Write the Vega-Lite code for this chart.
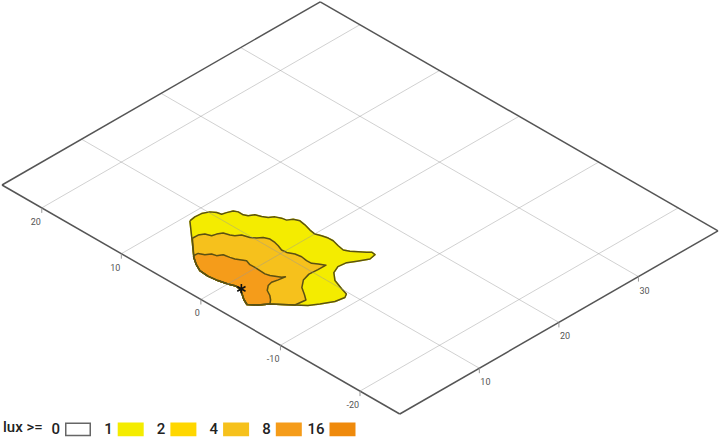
{
  "$schema": "https://vega.github.io/schema/vega-lite/v6.json",
  "width": 720,
  "height": 439,
  "padding": 0,
  "autosize": {"type": "fit", "contains": "padding"},
  "background": "white",
  "config": {"view": {"stroke": null}},
  "datasets": {
    "contours": [
      {"lux": 1, "i": 1, "X": 7.90, "Y": 9.28},
      {"lux": 1, "i": 2, "X": 8.64, "Y": 9.40},
      {"lux": 1, "i": 3, "X": 9.42, "Y": 9.34},
      {"lux": 1, "i": 4, "X": 10.13, "Y": 9.00},
      {"lux": 1, "i": 5, "X": 10.48, "Y": 8.50},
      {"lux": 1, "i": 6, "X": 10.62, "Y": 8.01},
      {"lux": 1, "i": 7, "X": 11.10, "Y": 7.87},
      {"lux": 1, "i": 8, "X": 11.70, "Y": 7.64},
      {"lux": 1, "i": 9, "X": 11.91, "Y": 7.22},
      {"lux": 1, "i": 10, "X": 11.90, "Y": 6.58},
      {"lux": 1, "i": 11, "X": 12.10, "Y": 6.16},
      {"lux": 1, "i": 12, "X": 12.63, "Y": 5.85},
      {"lux": 1, "i": 13, "X": 12.87, "Y": 5.24},
      {"lux": 1, "i": 14, "X": 13.18, "Y": 4.72},
      {"lux": 1, "i": 15, "X": 13.67, "Y": 4.37},
      {"lux": 1, "i": 16, "X": 13.95, "Y": 3.81},
      {"lux": 1, "i": 17, "X": 14.05, "Y": 3.28},
      {"lux": 1, "i": 18, "X": 14.57, "Y": 2.97},
      {"lux": 1, "i": 19, "X": 14.81, "Y": 2.36},
      {"lux": 1, "i": 20, "X": 14.69, "Y": 1.62},
      {"lux": 1, "i": 21, "X": 14.43, "Y": 0.72},
      {"lux": 1, "i": 22, "X": 14.31, "Y": -0.02},
      {"lux": 1, "i": 23, "X": 14.54, "Y": -0.63},
      {"lux": 1, "i": 24, "X": 14.71, "Y": -1.30},
      {"lux": 1, "i": 25, "X": 14.73, "Y": -1.90},
      {"lux": 1, "i": 26, "X": 14.50, "Y": -2.76},
      {"lux": 1, "i": 27, "X": 14.35, "Y": -3.54},
      {"lux": 1, "i": 28, "X": 14.64, "Y": -4.09},
      {"lux": 1, "i": 29, "X": 15.10, "Y": -4.67},
      {"lux": 1, "i": 30, "X": 15.58, "Y": -5.25},
      {"lux": 1, "i": 31, "X": 15.91, "Y": -5.59},
      {"lux": 1, "i": 32, "X": 15.83, "Y": -6.05},
      {"lux": 1, "i": 33, "X": 15.05, "Y": -6.20},
      {"lux": 1, "i": 34, "X": 13.99, "Y": -5.62},
      {"lux": 1, "i": 35, "X": 13.18, "Y": -5.14},
      {"lux": 1, "i": 36, "X": 12.20, "Y": -5.02},
      {"lux": 1, "i": 37, "X": 11.29, "Y": -5.42},
      {"lux": 1, "i": 38, "X": 10.49, "Y": -6.36},
      {"lux": 1, "i": 39, "X": 10.01, "Y": -7.68},
      {"lux": 1, "i": 40, "X": 9.74, "Y": -8.55},
      {"lux": 1, "i": 41, "X": 9.27, "Y": -8.83},
      {"lux": 1, "i": 42, "X": 8.21, "Y": -8.64},
      {"lux": 1, "i": 43, "X": 6.99, "Y": -7.97},
      {"lux": 1, "i": 44, "X": 6.07, "Y": -7.38},
      {"lux": 1, "i": 45, "X": 5.31, "Y": -6.51},
      {"lux": 1, "i": 46, "X": 4.55, "Y": -5.63},
      {"lux": 1, "i": 47, "X": 3.85, "Y": -4.83},
      {"lux": 1, "i": 48, "X": 2.98, "Y": -4.18},
      {"lux": 1, "i": 49, "X": 2.35, "Y": -3.44},
      {"lux": 1, "i": 50, "X": 2.70, "Y": -2.70},
      {"lux": 1, "i": 51, "X": 3.23, "Y": -1.93},
      {"lux": 1, "i": 52, "X": 3.59, "Y": -1.31},
      {"lux": 1, "i": 53, "X": 3.67, "Y": -0.73},
      {"lux": 1, "i": 54, "X": 3.38, "Y": -0.01},
      {"lux": 1, "i": 55, "X": 3.13, "Y": 1.00},
      {"lux": 1, "i": 56, "X": 2.99, "Y": 2.11},
      {"lux": 1, "i": 57, "X": 3.09, "Y": 3.22},
      {"lux": 1, "i": 58, "X": 3.52, "Y": 4.09},
      {"lux": 1, "i": 59, "X": 4.13, "Y": 5.01},
      {"lux": 1, "i": 60, "X": 6.07, "Y": 7.20},
      {"lux": 1, "i": 61, "X": 7.90, "Y": 9.28},
      {"lux": 4, "i": 1, "X": 6.15, "Y": 7.22},
      {"lux": 4, "i": 2, "X": 6.86, "Y": 7.20},
      {"lux": 4, "i": 3, "X": 7.39, "Y": 6.89},
      {"lux": 4, "i": 4, "X": 7.63, "Y": 6.28},
      {"lux": 4, "i": 5, "X": 8.13, "Y": 6.15},
      {"lux": 4, "i": 6, "X": 8.65, "Y": 5.85},
      {"lux": 4, "i": 7, "X": 8.86, "Y": 5.21},
      {"lux": 4, "i": 8, "X": 9.09, "Y": 4.82},
      {"lux": 4, "i": 9, "X": 9.59, "Y": 4.47},
      {"lux": 4, "i": 10, "X": 9.85, "Y": 3.69},
      {"lux": 4, "i": 11, "X": 10.21, "Y": 3.21},
      {"lux": 4, "i": 12, "X": 10.69, "Y": 2.86},
      {"lux": 4, "i": 13, "X": 10.94, "Y": 2.26},
      {"lux": 4, "i": 14, "X": 10.88, "Y": 1.58},
      {"lux": 4, "i": 15, "X": 10.73, "Y": 1.01},
      {"lux": 4, "i": 16, "X": 10.47, "Y": 0.33},
      {"lux": 4, "i": 17, "X": 10.53, "Y": -0.25},
      {"lux": 4, "i": 18, "X": 10.88, "Y": -0.94},
      {"lux": 4, "i": 19, "X": 11.00, "Y": -1.66},
      {"lux": 4, "i": 20, "X": 10.88, "Y": -2.40},
      {"lux": 4, "i": 21, "X": 10.90, "Y": -3.01},
      {"lux": 4, "i": 22, "X": 11.25, "Y": -3.49},
      {"lux": 4, "i": 23, "X": 11.61, "Y": -4.11},
      {"lux": 4, "i": 24, "X": 10.62, "Y": -4.09},
      {"lux": 4, "i": 25, "X": 9.56, "Y": -4.02},
      {"lux": 4, "i": 26, "X": 8.56, "Y": -4.32},
      {"lux": 4, "i": 27, "X": 7.65, "Y": -5.04},
      {"lux": 4, "i": 28, "X": 7.05, "Y": -5.96},
      {"lux": 4, "i": 29, "X": 6.55, "Y": -6.65},
      {"lux": 4, "i": 30, "X": 5.31, "Y": -6.51},
      {"lux": 4, "i": 31, "X": 4.55, "Y": -5.63},
      {"lux": 4, "i": 32, "X": 3.85, "Y": -4.83},
      {"lux": 4, "i": 33, "X": 2.98, "Y": -4.18},
      {"lux": 4, "i": 34, "X": 2.35, "Y": -3.44},
      {"lux": 4, "i": 35, "X": 2.70, "Y": -2.70},
      {"lux": 4, "i": 36, "X": 3.23, "Y": -1.93},
      {"lux": 4, "i": 37, "X": 3.59, "Y": -1.31},
      {"lux": 4, "i": 38, "X": 3.67, "Y": -0.73},
      {"lux": 4, "i": 39, "X": 3.38, "Y": -0.01},
      {"lux": 4, "i": 40, "X": 3.13, "Y": 1.00},
      {"lux": 4, "i": 41, "X": 2.99, "Y": 2.11},
      {"lux": 4, "i": 42, "X": 3.09, "Y": 3.22},
      {"lux": 4, "i": 43, "X": 3.52, "Y": 4.09},
      {"lux": 4, "i": 44, "X": 4.13, "Y": 5.01},
      {"lux": 4, "i": 45, "X": 6.15, "Y": 7.22},
      {"lux": 8, "i": 1, "X": 4.31, "Y": 5.25},
      {"lux": 8, "i": 2, "X": 4.86, "Y": 5.20},
      {"lux": 8, "i": 3, "X": 5.14, "Y": 4.64},
      {"lux": 8, "i": 4, "X": 5.64, "Y": 4.30},
      {"lux": 8, "i": 5, "X": 5.77, "Y": 3.80},
      {"lux": 8, "i": 6, "X": 6.29, "Y": 3.49},
      {"lux": 8, "i": 7, "X": 6.42, "Y": 2.78},
      {"lux": 8, "i": 8, "X": 6.56, "Y": 2.29},
      {"lux": 8, "i": 9, "X": 6.87, "Y": 1.76},
      {"lux": 8, "i": 10, "X": 7.11, "Y": 1.37},
      {"lux": 8, "i": 11, "X": 6.88, "Y": 0.72},
      {"lux": 8, "i": 12, "X": 6.91, "Y": 0.12},
      {"lux": 8, "i": 13, "X": 6.86, "Y": -0.56},
      {"lux": 8, "i": 14, "X": 6.82, "Y": -1.23},
      {"lux": 8, "i": 15, "X": 6.95, "Y": -1.73},
      {"lux": 8, "i": 16, "X": 7.26, "Y": -2.26},
      {"lux": 8, "i": 17, "X": 7.50, "Y": -2.65},
      {"lux": 8, "i": 18, "X": 7.78, "Y": -2.84},
      {"lux": 8, "i": 19, "X": 7.00, "Y": -2.72},
      {"lux": 8, "i": 20, "X": 6.32, "Y": -2.56},
      {"lux": 8, "i": 21, "X": 5.75, "Y": -2.71},
      {"lux": 8, "i": 22, "X": 5.15, "Y": -3.19},
      {"lux": 8, "i": 23, "X": 4.77, "Y": -3.90},
      {"lux": 8, "i": 24, "X": 4.35, "Y": -4.41},
      {"lux": 8, "i": 25, "X": 3.85, "Y": -4.83},
      {"lux": 8, "i": 26, "X": 2.98, "Y": -4.18},
      {"lux": 8, "i": 27, "X": 2.35, "Y": -3.44},
      {"lux": 8, "i": 28, "X": 2.70, "Y": -2.70},
      {"lux": 8, "i": 29, "X": 3.23, "Y": -1.93},
      {"lux": 8, "i": 30, "X": 3.59, "Y": -1.31},
      {"lux": 8, "i": 31, "X": 3.67, "Y": -0.73},
      {"lux": 8, "i": 32, "X": 3.38, "Y": -0.01},
      {"lux": 8, "i": 33, "X": 3.13, "Y": 1.00},
      {"lux": 8, "i": 34, "X": 2.99, "Y": 2.11},
      {"lux": 8, "i": 35, "X": 3.09, "Y": 3.22},
      {"lux": 8, "i": 36, "X": 3.52, "Y": 4.09},
      {"lux": 8, "i": 37, "X": 4.31, "Y": 5.25}
    ],
    "grid": [
      {"X1": 10, "Y1": -25, "X2": 10, "Y2": 25},
      {"X1": 20, "Y1": -25, "X2": 20, "Y2": 25},
      {"X1": 30, "Y1": -25, "X2": 30, "Y2": 25},
      {"X1": 0, "Y1": -20, "X2": 40, "Y2": -20},
      {"X1": 0, "Y1": -10, "X2": 40, "Y2": -10},
      {"X1": 0, "Y1": 0, "X2": 40, "Y2": 0},
      {"X1": 0, "Y1": 10, "X2": 40, "Y2": 10},
      {"X1": 0, "Y1": 20, "X2": 40, "Y2": 20}
    ],
    "border": [
      {"X1": 0, "Y1": -25, "X2": 40, "Y2": -25},
      {"X1": 40, "Y1": -25, "X2": 40, "Y2": 25},
      {"X1": 40, "Y1": 25, "X2": 0, "Y2": 25},
      {"X1": 0, "Y1": 25, "X2": 0, "Y2": -25}
    ],
    "ticks": [
      {"axis": "left", "X": 0, "Y": 20, "label": "20"},
      {"axis": "left", "X": 0, "Y": 10, "label": "10"},
      {"axis": "left", "X": 0, "Y": 0, "label": "0"},
      {"axis": "left", "X": 0, "Y": -10, "label": "-10"},
      {"axis": "left", "X": 0, "Y": -20, "label": "-20"},
      {"axis": "right", "X": 10, "Y": -25, "label": "10"},
      {"axis": "right", "X": 20, "Y": -25, "label": "20"},
      {"axis": "right", "X": 30, "Y": -25, "label": "30"}
    ],
    "lamp": [{"X": 3.71, "Y": -1.38}]
  },
  "layer": [
    {
      "data": {"name": "contours"},
      "transform": [
        {"calculate": "datum.X - datum.Y", "as": "u"},
        {"calculate": "datum.X + datum.Y", "as": "v"}
      ],
      "mark": {"type": "line", "strokeWidth": 1.5, "strokeJoin": "round"},
      "encoding": {
        "x": {"field": "u", "type": "quantitative", "scale": {"domain": [-25.25, 65.25], "nice": false, "zero": false}, "axis": null},
        "y": {"field": "v", "type": "quantitative", "scale": {"domain": [-30.46, 65.39], "nice": false, "zero": false}, "axis": null},
        "order": {"field": "i", "type": "quantitative"},
        "stroke": {
          "field": "lux",
          "type": "ordinal",
          "scale": {"domain": [0, 1, 2, 4, 8, 16], "range": ["#666666", "#f4ec00", "#ffd700", "#f6c11c", "#f59c1a", "#ef8a0c"]},
          "legend": {"title": "lux >="}
        },
        "fill": {
          "field": "lux",
          "type": "ordinal",
          "scale": {"domain": [0, 1, 2, 4, 8, 16], "range": ["#ffffff", "#f4ec00", "#ffd700", "#f6c11c", "#f59c1a", "#ef8a0c"]},
          "legend": {
            "title": "lux >=",
            "orient": "none",
            "legendX": 3,
            "legendY": 416,
            "direction": "horizontal",
            "padding": 0,
            "titleOrient": "left",
            "titleFont": "Roboto",
            "titleFontSize": 15,
            "titleFontWeight": 500,
            "titleColor": "#222222",
            "titlePadding": 0,
            "labelFont": "Roboto",
            "labelFontSize": 15,
            "labelFontWeight": 500,
            "labelColor": "#222222",
            "labelAlign": "right",
            "labelOffset": -31,
            "symbolOffset": 22,
            "symbolType": "M-1,-0.5H1V0.5H-1Z",
            "symbolSize": 600,
            "symbolStrokeWidth": 1.5,
            "columnPadding": 1.7
          }
        }
      }
    },
    {
      "data": {"name": "contours"},
      "transform": [
        {"calculate": "datum.X - datum.Y", "as": "u"},
        {"calculate": "datum.X + datum.Y", "as": "v"}
      ],
      "mark": {"type": "line", "stroke": "#5a5212", "strokeWidth": 1.5, "strokeJoin": "round"},
      "encoding": {
        "x": {"field": "u", "type": "quantitative", "scale": {"domain": [-25.25, 65.25], "nice": false, "zero": false}, "axis": null},
        "y": {"field": "v", "type": "quantitative", "scale": {"domain": [-30.46, 65.39], "nice": false, "zero": false}, "axis": null},
        "order": {"field": "i", "type": "quantitative"},
        "detail": {"field": "lux", "type": "nominal"}
      }
    },
    {
      "data": {"name": "grid"},
      "transform": [
        {"calculate": "datum.X1 - datum.Y1", "as": "u1"},
        {"calculate": "datum.X1 + datum.Y1", "as": "v1"},
        {"calculate": "datum.X2 - datum.Y2", "as": "u2"},
        {"calculate": "datum.X2 + datum.Y2", "as": "v2"}
      ],
      "mark": {"type": "rule", "stroke": "#999999", "strokeOpacity": 0.45, "strokeWidth": 1},
      "encoding": {
        "x": {"field": "u1", "type": "quantitative", "scale": {"domain": [-25.25, 65.25], "nice": false, "zero": false}, "axis": null},
        "y": {"field": "v1", "type": "quantitative", "scale": {"domain": [-30.46, 65.39], "nice": false, "zero": false}, "axis": null},
        "x2": {"field": "u2"},
        "y2": {"field": "v2"}
      }
    },
    {
      "data": {"name": "border"},
      "transform": [
        {"calculate": "datum.X1 - datum.Y1", "as": "u1"},
        {"calculate": "datum.X1 + datum.Y1", "as": "v1"},
        {"calculate": "datum.X2 - datum.Y2", "as": "u2"},
        {"calculate": "datum.X2 + datum.Y2", "as": "v2"}
      ],
      "mark": {"type": "rule", "stroke": "#555555", "strokeWidth": 1.5},
      "encoding": {
        "x": {"field": "u1", "type": "quantitative", "scale": {"domain": [-25.25, 65.25], "nice": false, "zero": false}, "axis": null},
        "y": {"field": "v1", "type": "quantitative", "scale": {"domain": [-30.46, 65.39], "nice": false, "zero": false}, "axis": null},
        "x2": {"field": "u2"},
        "y2": {"field": "v2"}
      }
    },
    {
      "data": {"name": "ticks"},
      "transform": [
        {"calculate": "datum.X - datum.Y", "as": "u"},
        {"calculate": "datum.X + datum.Y", "as": "v"}
      ],
      "mark": {"type": "rule", "stroke": "#999999", "strokeWidth": 1, "y2Offset": 5},
      "encoding": {
        "x": {"field": "u", "type": "quantitative", "scale": {"domain": [-25.25, 65.25], "nice": false, "zero": false}, "axis": null},
        "y": {"field": "v", "type": "quantitative", "scale": {"domain": [-30.46, 65.39], "nice": false, "zero": false}, "axis": null},
        "y2": {"field": "v"}
      }
    },
    {
      "data": {"name": "ticks"},
      "transform": [
        {"filter": "datum.axis == 'left'"},
        {"calculate": "datum.X - datum.Y", "as": "u"},
        {"calculate": "datum.X + datum.Y", "as": "v"}
      ],
      "mark": {"type": "text", "align": "right", "baseline": "middle", "dx": -1, "dy": 14, "font": "Roboto", "fontSize": 9, "color": "#555555"},
      "encoding": {
        "x": {"field": "u", "type": "quantitative", "scale": {"domain": [-25.25, 65.25], "nice": false, "zero": false}, "axis": null},
        "y": {"field": "v", "type": "quantitative", "scale": {"domain": [-30.46, 65.39], "nice": false, "zero": false}, "axis": null},
        "text": {"field": "label"}
      }
    },
    {
      "data": {"name": "ticks"},
      "transform": [
        {"filter": "datum.axis == 'right'"},
        {"calculate": "datum.X - datum.Y", "as": "u"},
        {"calculate": "datum.X + datum.Y", "as": "v"}
      ],
      "mark": {"type": "text", "align": "left", "baseline": "middle", "dx": 1, "dy": 14, "font": "Roboto", "fontSize": 9, "color": "#555555"},
      "encoding": {
        "x": {"field": "u", "type": "quantitative", "scale": {"domain": [-25.25, 65.25], "nice": false, "zero": false}, "axis": null},
        "y": {"field": "v", "type": "quantitative", "scale": {"domain": [-30.46, 65.39], "nice": false, "zero": false}, "axis": null},
        "text": {"field": "label"}
      }
    },
    {
      "data": {"name": "lamp"},
      "transform": [
        {"calculate": "datum.X - datum.Y", "as": "u"},
        {"calculate": "datum.X + datum.Y", "as": "v"}
      ],
      "mark": {"type": "point", "shape": "M0,-1L0,1M-0.87,-0.5L0.87,0.5M-0.87,0.5L0.87,-0.5", "size": 90, "filled": false, "stroke": "#111111", "strokeWidth": 1.6, "opacity": 1},
      "encoding": {
        "x": {"field": "u", "type": "quantitative", "scale": {"domain": [-25.25, 65.25], "nice": false, "zero": false}, "axis": null},
        "y": {"field": "v", "type": "quantitative", "scale": {"domain": [-30.46, 65.39], "nice": false, "zero": false}, "axis": null}
      }
    }
  ]
}
